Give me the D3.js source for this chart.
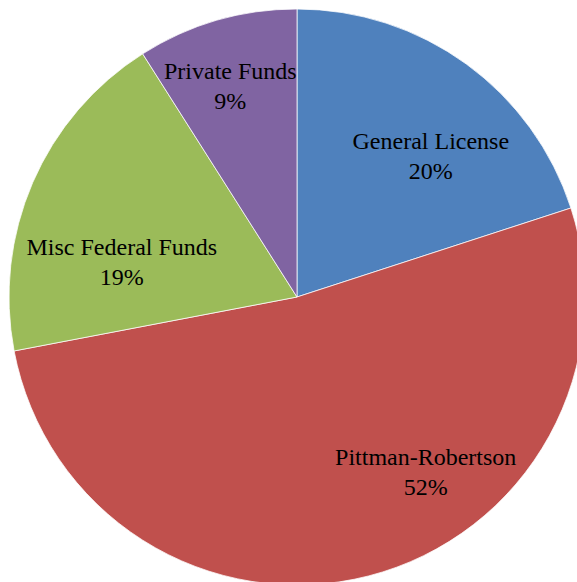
<!DOCTYPE html>
<html>
<head>
<meta charset="utf-8">
<script src="https://cdn.jsdelivr.net/npm/d3@7"></script>
<style>
  body { margin: 0; background: #fff; }
  svg { display: block; }
</style>
</head>
<body>
<div class="chart-holder"></div>
<script>
const categories = ["General License", "Pittman-Robertson", "Misc Federal Funds", "Private Funds"]
const shares = [20, 52, 19, 9]
const colors = ["#4F81BD", "#C0504D", "#9BBB59", "#8064A2"]
// label anchors (Excel "best fit"), angle in degrees clockwise from top, radius as fraction
const labelAngle = [43.5, 143.6, 281.2, 342.5]
const labelRadius = [0.675, 0.753, 0.62, 0.77]

const width = 577, height = 582
const radius = 288
const cx = 297, cy = 297

const svg = d3.select('.chart-holder').append('svg')
  .attr('width', width).attr('height', height)

const g = svg.append('g').attr('transform', `translate(${cx},${cy})`)

const data = categories.map((c, i) => ({ name: c, value: shares[i], color: colors[i], i: i }))

const pie = d3.pie().sort(null).value(d => d.value)
const arc = d3.arc().innerRadius(0).outerRadius(radius)

g.selectAll('path')
  .data(pie(data))
  .enter()
  .append('path')
  .attr('d', arc)
  .attr('fill', d => d.data.color)
  .attr('stroke', '#fff')
  .attr('stroke-width', 0.75)

const labels = g.selectAll('text')
  .data(pie(data))
  .enter()
  .append('text')
  .attr('transform', d => {
    const p = d3.pointRadial(labelAngle[d.data.i] * Math.PI / 180, labelRadius[d.data.i] * radius)
    return `translate(${p[0]},${p[1]})`
  })
  .attr('text-anchor', 'middle')
  .style('font-family', "'Liberation Serif'")
  .style('font-size', '24px')
  .attr('fill', '#000')

labels.append('tspan').attr('x', 0).attr('y', -7).text(d => d.data.name)
labels.append('tspan').attr('x', 0).attr('y', 23).text(d => d.data.value + '%')
</script>
</body>
</html>
